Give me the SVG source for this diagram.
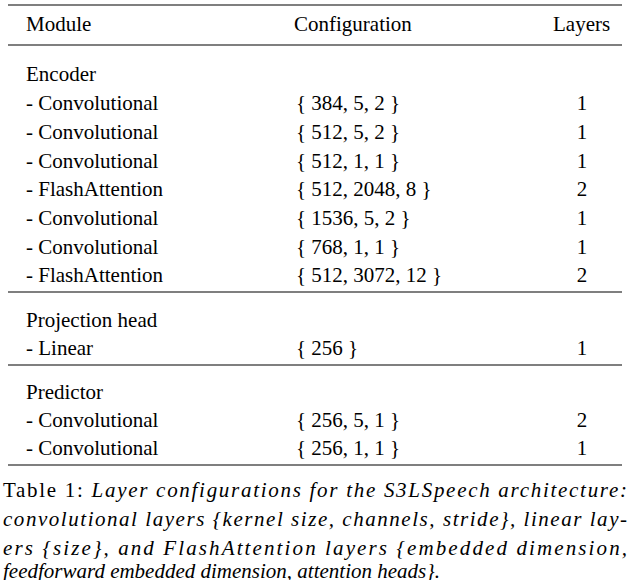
<svg xmlns="http://www.w3.org/2000/svg" width="630" height="580" viewBox="0 0 630 580" font-family="'Liberation Serif', 'DejaVu Serif', serif">
<style>
text{font-family:'Liberation Serif','DejaVu Serif',serif;font-size:21px;fill:#000}
.i{font-style:italic}
.c{text-anchor:middle}
line{stroke:#000;stroke-width:1.2}
</style>
<rect width="630" height="580" fill="#fff"/>
<g id="rules">
<line x1="8" y1="5" x2="622" y2="5"/>
<line x1="8" y1="45" x2="622" y2="45"/>
<line x1="8" y1="292" x2="622" y2="292"/>
<line x1="8" y1="365" x2="622" y2="365"/>
<line x1="8" y1="465" x2="622" y2="465"/>
</g>
<g id="header">
<text x="26" y="31">Module</text>
<text x="294" y="31">Configuration</text>
<text x="553" y="31">Layers</text>
</g>
<g id="encoder">
<text x="26" y="81">Encoder</text>
<text x="26" y="110">- Convolutional</text><text x="296" y="110">{ 384, 5, 2 }</text><text x="582" y="110" class="c">1</text>
<text x="26" y="139">- Convolutional</text><text x="296" y="139">{ 512, 5, 2 }</text><text x="582" y="139" class="c">1</text>
<text x="26" y="168">- Convolutional</text><text x="296" y="168">{ 512, 1, 1 }</text><text x="582" y="168" class="c">1</text>
<text x="26" y="196">- FlashAttention</text><text x="296" y="196">{ 512, 2048, 8 }</text><text x="582" y="196" class="c">2</text>
<text x="26" y="225">- Convolutional</text><text x="296" y="225">{ 1536, 5, 2 }</text><text x="582" y="225" class="c">1</text>
<text x="26" y="254">- Convolutional</text><text x="296" y="254">{ 768, 1, 1 }</text><text x="582" y="254" class="c">1</text>
<text x="26" y="282">- FlashAttention</text><text x="296" y="282">{ 512, 3072, 12 }</text><text x="582" y="282" class="c">2</text>
</g>
<g id="projection">
<text x="26" y="327">Projection head</text>
<text x="26" y="355">- Linear</text><text x="296" y="355">{ 256 }</text><text x="582" y="355" class="c">1</text>
</g>
<g id="predictor">
<text x="26" y="399">Predictor</text>
<text x="26" y="427">- Convolutional</text><text x="296" y="427">{ 256, 5, 1 }</text><text x="582" y="427" class="c">2</text>
<text x="26" y="455">- Convolutional</text><text x="296" y="455">{ 256, 1, 1 }</text><text x="582" y="455" class="c">1</text>
</g>
<g id="caption">
<text x="3" y="497" textLength="624" lengthAdjust="spacing">Table 1: <tspan class="i">Layer configurations for the S3LSpeech architecture:</tspan></text>
<text x="3" y="526" class="i" textLength="624" lengthAdjust="spacing">convolutional layers {kernel size, channels, stride}, linear lay-</text>
<text x="3" y="555" class="i" textLength="624" lengthAdjust="spacing">ers {size}, and FlashAttention layers {embedded dimension,</text>
<text x="3" y="578" class="i">feedforward embedded dimension, attention heads}.</text>
</g>
</svg>
